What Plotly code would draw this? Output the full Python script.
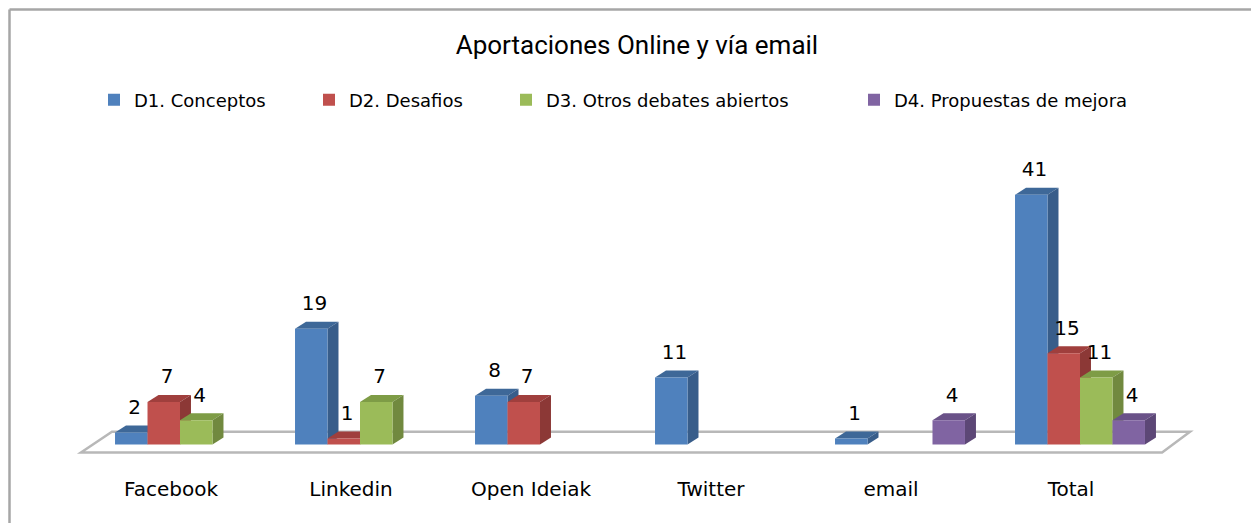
import plotly.graph_objects as go

categories = ["Facebook", "Linkedin", "Open Ideiak", "Twitter", "email", "Total"]
series_names = ["D1. Conceptos", "D2. Desafios", "D3. Otros debates abiertos", "D4. Propuestas de mejora"]
d1_values = [2, 19, 8, 11, 1, 41]
d2_values = [7, 1, 7, None, None, 15]
d3_values = [4, 7, None, None, None, 11]
d4_values = [None, None, None, None, 4, 4]
series_values = [d1_values, d2_values, d3_values, d4_values]

front_colors = ["#4F81BD", "#C0504D", "#9BBB59", "#8064A2"]
top_colors = ["#3E6898", "#A03F3D", "#7E9C46", "#6A5288"]
side_colors = ["#385D8A", "#8C3836", "#71893F", "#5C4776"]

FONT = "DejaVu Sans, Verdana, sans-serif"
W, H = 1243, 515          # page has an 8px body margin
BARGAP = 0.278
n_series = len(series_values)
bar_w = (1 - BARGAP) / n_series
DX = 0.061   # depth offset (category units)
DY = 1.15    # depth offset (value units)

x_idx = list(range(len(categories)))

fig = go.Figure()
shapes = []

# floor (decoration)
shapes.append(dict(type="path", xref="x", yref="y", layer="below",
                   path="M -0.55,-1.3 L 5.456,-1.3 L 5.611,2.1 L -0.378,2.1 Z",
                   line=dict(color="#B8B8B8", width=2.5), fillcolor="rgba(255,255,255,0)"))

legend_text_x = [136, 351, 548, 896]
for j, (name, vals) in enumerate(zip(series_names, series_values)):
    leg = "legend" if j == 0 else f"legend{j+1}"
    fig.add_trace(go.Bar(x=x_idx, y=vals, name=name, marker=dict(color=front_colors[j], line=dict(width=0)),
                         legend=leg, hoverinfo="skip"))
    lx, ly = [], []
    for i, v in enumerate(vals):
        if v is None:
            continue
        c = i + (j - (n_series - 1) / 2) * bar_w
        x0, x1 = c - bar_w / 2, c + bar_w / 2
        # top face
        shapes.append(dict(type="path", xref="x", yref="y", layer="below",
                           path=f"M {x0},{v} L {x1},{v} L {x1+DX},{v+DY} L {x0+DX},{v+DY} Z",
                           fillcolor=top_colors[j], line=dict(width=0)))
        # side face
        shapes.append(dict(type="path", xref="x", yref="y", layer="below",
                           path=f"M {x1},0 L {x1},{v} L {x1+DX},{v+DY} L {x1+DX},{DY} Z",
                           fillcolor=side_colors[j], line=dict(width=0)))
        lx.append(c + DX * 0.3)
        ly.append(v + DY + 1.1)
    fig.add_trace(go.Scatter(x=lx, y=ly, mode="text", text=[str(v) for v in vals if v is not None],
                             textposition="top center", textfont=dict(family=FONT, size=20, color="#000"),
                             showlegend=False, hoverinfo="skip", cliponaxis=False))

# chart frame (decoration)
shapes.append(dict(type="line", xref="paper", yref="paper", layer="above",
                   x0=(1.5 - 64) / 1125, x1=(1.5 - 64) / 1125, y0=-0.3, y1=(450 - 1.5) / 318,
                   line=dict(color="#A6A6A6", width=2.5)))
shapes.append(dict(type="line", xref="paper", yref="paper", layer="above",
                   x0=(1.5 - 64) / 1125, x1=1.2, y0=(450 - 1.5) / 318, y1=(450 - 1.5) / 318,
                   line=dict(color="#A6A6A6", width=2.5)))

layout_legends = {}
for j in range(n_series):
    key = "legend" if j == 0 else f"legend{j+1}"
    layout_legends[key] = dict(xref="container", yref="container", x=(legend_text_x[j] - 8 - 42) / W,
                               xanchor="left", y=1 - (100 - 8) / H, yanchor="middle",
                               orientation="h", bgcolor="rgba(0,0,0,0)", itemwidth=30,
                               font=dict(family=FONT, size=18, color="#000"))

fig.update_layout(
    width=W, height=H,
    margin=dict(l=64, r=54, t=132, b=65),
    paper_bgcolor="white", plot_bgcolor="white",
    barmode="group", bargap=BARGAP, bargroupgap=0,
    title=dict(text="Aportaciones Online y vía email", x=0.506, xanchor="center",
               y=1 - 37 / H, yanchor="middle",
               font=dict(family="Liberation Sans Narrow, Roboto, sans-serif", size=26, color="#000")),
    xaxis=dict(range=[-0.6, 5.65], tickvals=x_idx, ticktext=categories, showgrid=False, zeroline=False,
               showline=False, ticks="", ticklabelstandoff=17, ticklabelshift=-9,
               tickfont=dict(family=FONT, size=20, color="#000"), fixedrange=True),
    yaxis=dict(range=[-2.2, 50], visible=False, showgrid=False, zeroline=False, fixedrange=True),
    shapes=shapes,
    **layout_legends,
)

fig.write_html("out.html")
